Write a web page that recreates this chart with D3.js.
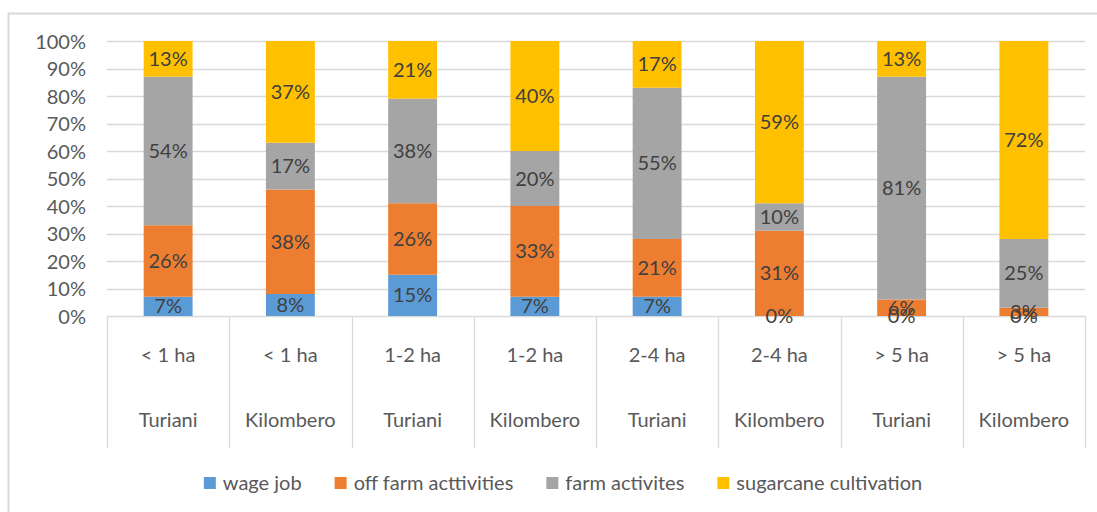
<!DOCTYPE html>
<html>
<head>
<meta charset="utf-8">
<script src="https://cdn.jsdelivr.net/npm/d3@7"></script>
<style>
  body { margin: 0; background: #fff; }
  svg { display: block; font-family: Lato, "Open Sans", sans-serif; }
</style>
</head>
<body>
<svg id="chart"></svg>
<script>
let sizes = ["< 1 ha", "< 1 ha", "1-2 ha", "1-2 ha", "2-4 ha", "2-4 ha", "> 5 ha", "> 5 ha"]
let regions = ["Turiani", "Kilombero", "Turiani", "Kilombero", "Turiani", "Kilombero", "Turiani", "Kilombero"]
let seriesNames = ["wage job", "off farm acttivities", "farm activites", "sugarcane cultivation"]
let wageJob = [7, 8, 15, 7, 7, 0, 0, 0]
let offFarm = [26, 38, 26, 33, 21, 31, 6, 3]
let farmAct = [54, 17, 38, 20, 55, 10, 81, 25]
let sugarcane = [13, 37, 21, 40, 17, 59, 13, 72]
let yTicks = [0, 10, 20, 30, 40, 50, 60, 70, 80, 90, 100]

let colors = ["#5B9BD5", "#ED7D31", "#A5A5A5", "#FFC000"]
let fs = '20px'

let width = 1097, height = 512
let svg = d3.select('#chart').attr('width', width).attr('height', height)

// outer chart border (runs off the right/bottom of the picture)
svg.append('rect')
    .attr('x', 8.5).attr('y', 13.5)
    .attr('width', 1100).attr('height', 510)
    .attr('fill', 'none').attr('stroke', '#d9d9d9').attr('stroke-width', 2)

let plot = {left: 107, right: 1085, top: 41, bottom: 316}

let rows = sizes.map((s, i) => ({
    key: i, size: s, region: regions[i],
    s0: wageJob[i], s1: offFarm[i], s2: farmAct[i], s3: sugarcane[i]
}))

let x = d3.scaleBand()
    .domain(rows.map(d => d.key))
    .range([plot.left, plot.right])
    .paddingInner(0.6)
    .paddingOuter(0.3)

let y = d3.scaleLinear().domain([0, 100]).range([plot.bottom, plot.top])

// gridlines
svg.append('g').selectAll('line')
    .data(yTicks)
    .enter().append('line')
    .attr('x1', plot.left).attr('x2', plot.right)
    .attr('y1', d => Math.round(y(d)) + 0.5).attr('y2', d => Math.round(y(d)) + 0.5)
    .attr('stroke', '#d9d9d9').attr('stroke-width', 1.3)

// y axis labels
let yAxis = svg.append('g')
    .attr('transform', 'translate(' + (plot.left - 21) + ',0)')
    .call(d3.axisLeft(y).tickValues(yTicks).tickFormat(d => d + '%').tickSize(0).tickPadding(0))
yAxis.select('.domain').remove()
yAxis.selectAll('text')
    .attr('font-size', fs).attr('fill', '#595959')
    .attr('font-family', 'Lato, sans-serif')
    .attr('dy', '0.35em')

// category separators
let step = x.step()
let seps = d3.range(rows.length + 1).map(i => plot.left + i * step)
svg.append('g').selectAll('line')
    .data(seps)
    .enter().append('line')
    .attr('x1', d => Math.round(d) + 0.5).attr('x2', d => Math.round(d) + 0.5)
    .attr('y1', plot.bottom).attr('y2', 448)
    .attr('stroke', '#d9d9d9').attr('stroke-width', 1.3)

// stacked bars
let stack = d3.stack().keys(['s0', 's1', 's2', 's3'])
let layers = stack(rows)

let layerG = svg.append('g').selectAll('g')
    .data(layers)
    .enter().append('g')
    .attr('fill', (d, i) => colors[i])

layerG.selectAll('rect')
    .data(d => d)
    .enter().append('rect')
    .attr('x', d => x(d.data.key))
    .attr('width', x.bandwidth())
    .attr('y', d => y(d[1]))
    .attr('height', d => y(d[0]) - y(d[1]))

// data labels
let labG = svg.append('g')
layers.forEach((layer) => {
    labG.selectAll(null)
        .data(layer)
        .enter().append('text')
        .attr('x', d => x(d.data.key) + x.bandwidth() / 2)
        .attr('y', d => y((d[0] + d[1]) / 2))
        .attr('dy', '0.35em')
        .attr('text-anchor', 'middle')
        .attr('font-size', fs)
        .attr('fill', '#404040')
        .text(d => (d[1] - d[0]) + '%')
})

// category labels
let catG = svg.append('g')
catG.selectAll('text.size')
    .data(rows)
    .enter().append('text')
    .attr('class', 'size')
    .attr('x', d => x(d.key) + x.bandwidth() / 2)
    .attr('y', 355).attr('dy', '0.35em')
    .attr('text-anchor', 'middle')
    .attr('font-size', fs).attr('fill', '#595959')
    .text(d => d.size)
catG.selectAll('text.region')
    .data(rows)
    .enter().append('text')
    .attr('class', 'region')
    .attr('x', d => x(d.key) + x.bandwidth() / 2)
    .attr('y', 420).attr('dy', '0.35em')
    .attr('text-anchor', 'middle')
    .attr('font-size', fs).attr('fill', '#595959')
    .text(d => d.region)

// legend
let legend = svg.append('g')
let items = legend.selectAll('g')
    .data(seriesNames)
    .enter().append('g')
items.append('rect')
    .attr('width', 12).attr('height', 12)
    .attr('y', 477)
    .attr('fill', (d, i) => colors[i])
items.append('text')
    .attr('x', 19).attr('y', 483).attr('dy', '0.35em')
    .attr('font-size', fs).attr('fill', '#595959')
    .text(d => d)

let widths = []
items.each(function() {
    widths.push(this.querySelector('text').getComputedTextLength() + 19)
})
let gap = 33
let total = d3.sum(widths) + gap * (widths.length - 1)
let offsetX = 563 - total / 2
items.attr('transform', (d, i) => {
    let tx = offsetX + d3.sum(widths.slice(0, i)) + gap * i
    return 'translate(' + tx + ',0)'
})
</script>
</body>
</html>
